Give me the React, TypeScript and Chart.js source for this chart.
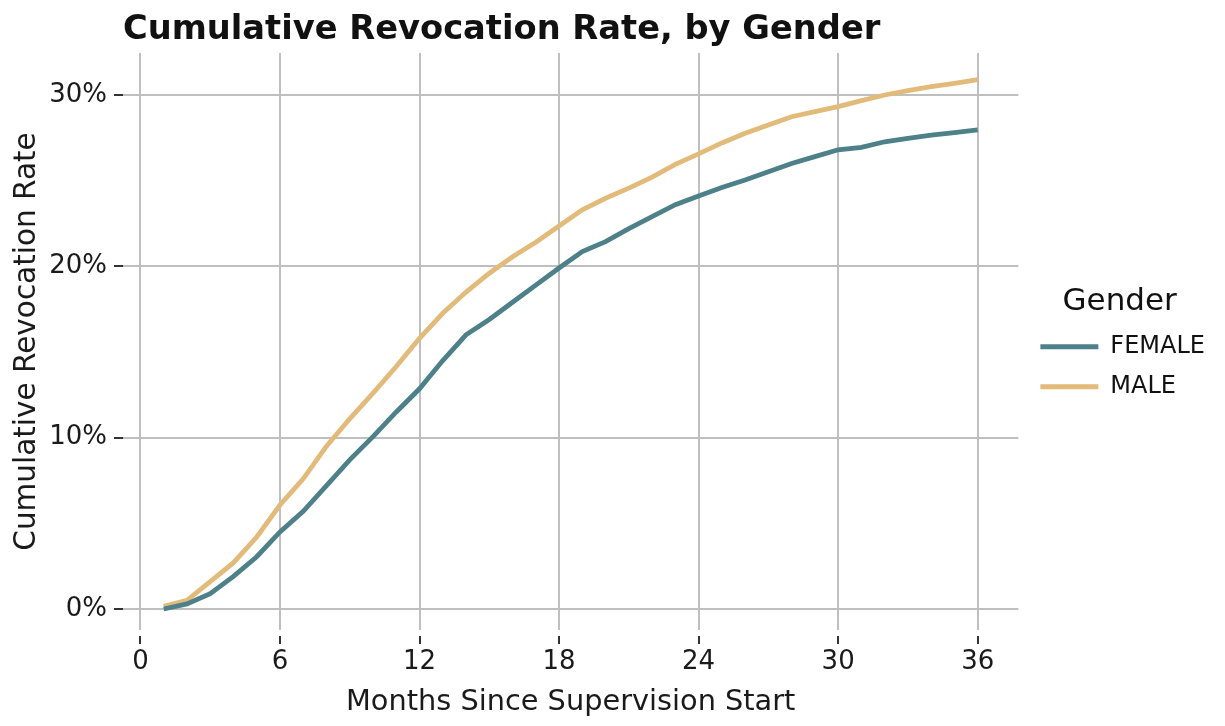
import React, { useEffect, useRef } from 'react';
import { Chart, registerables } from 'chart.js';

Chart.register(...registerables);

const TITLE = 'Cumulative Revocation Rate, by Gender';
const X_TITLE = 'Months Since Supervision Start';
const Y_TITLE = 'Cumulative Revocation Rate';
const LEGEND_TITLE = 'Gender';

const months = [1, 2, 3, 4, 5, 6, 7, 8, 9, 10, 11, 12, 13, 14, 15, 16, 17, 18, 19, 20, 21, 22, 23, 24, 25, 26, 27, 28, 29, 30, 31, 32, 33, 34, 35, 36];

const femaleRate = [0.0, 0.3, 0.9, 1.9, 3.05, 4.5, 5.7, 7.2, 8.7, 10.06, 11.5, 12.85, 14.5, 16.0, 16.9, 17.9, 18.9, 19.9, 20.86, 21.44, 22.2, 22.9, 23.6, 24.1, 24.6, 25.04, 25.52, 26.0, 26.4, 26.8, 26.94, 27.27, 27.47, 27.66, 27.8, 27.96];

const maleRate = [0.15, 0.5, 1.6, 2.7, 4.2, 6.07, 7.6, 9.5, 11.1, 12.6, 14.15, 15.8, 17.26, 18.5, 19.6, 20.56, 21.4, 22.35, 23.3, 23.97, 24.56, 25.2, 25.95, 26.56, 27.2, 27.77, 28.25, 28.73, 29.03, 29.32, 29.67, 30.0, 30.25, 30.49, 30.68, 30.9];

const seriesNames = ['FEMALE', 'MALE'];
const seriesColors = ['#4d8088', '#e2bb7a'];

const xTicks = [0, 6, 12, 18, 24, 30, 36];
const yTicks = [0, 10, 20, 30];

const FONT = "'DejaVu Sans', sans-serif";

const leftTitlePlugin = {
  id: 'leftTitle',
  afterDraw(chart: any) {
    const ctx = chart.ctx;
    ctx.save();
    ctx.font = `bold 33.7px ${FONT}`;
    ctx.fillStyle = '#111111';
    ctx.textAlign = 'left';
    ctx.textBaseline = 'alphabetic';
    ctx.fillText(TITLE, chart.chartArea.left, 39);
    ctx.restore();
  },
};

const legendShiftPlugin = {
  id: 'legendShift',
  afterLayout(chart: any) {
    const lg = chart.legend;
    if (!lg) return;
    const dx = 6;
    lg.left += dx;
    lg.right += dx;
  },
};

export default function App() {
  const canvasRef = useRef<HTMLCanvasElement | null>(null);

  useEffect(() => {
    document.body.style.margin = '0';
    const canvas = canvasRef.current;
    if (!canvas) return;
    const series = [femaleRate, maleRate];
    const chart = new Chart(canvas, {
      type: 'line',
      data: {
        datasets: seriesNames.map((name, i) => ({
          label: name,
          data: months.map((m, j) => ({ x: m, y: series[i][j] })),
          borderColor: seriesColors[i],
          backgroundColor: seriesColors[i],
          borderWidth: 4.8,
          pointRadius: 0,
          tension: 0,
          fill: false,
        })),
      },
      options: {
        responsive: false,
        animation: false,
        devicePixelRatio: 1,
        layout: { padding: { top: 53, right: 16, left: 0, bottom: 0 } },
        plugins: {
          tooltip: { enabled: false },
          title: { display: false },
          legend: {
            display: true,
            position: 'right',
            align: 'center',
            fullSize: false,
            title: {
              display: true,
              text: LEGEND_TITLE,
              color: '#111111',
              font: { family: FONT, size: 31, lineHeight: 1 },
              padding: { top: 18, bottom: 1.5 },
            },
            labels: {
              color: '#111111',
              font: { family: FONT, size: 24 },
              usePointStyle: true,
              pointStyle: 'line',
              pointStyleWidth: 58,
              padding: 16,
            },
          },
        },
        scales: {
          x: {
            type: 'linear',
            min: -0.75,
            max: 37.75,
            afterBuildTicks: (s: any) => {
              s.ticks = xTicks.map((v) => ({ value: v }));
            },
            afterFit: (s: any) => {
              s.height = 96;
            },
            border: { display: false },
            grid: {
              color: '#bfbfbf',
              lineWidth: 2,
              drawTicks: true,
              tickLength: 14,
              tickColor: '#333333',
              tickWidth: 2,
              tickBorderDash: [0, 6, 8, 100],
            },
            ticks: {
              color: '#1a1a1a',
              font: { family: FONT, size: 26 },
              padding: 3,
              maxRotation: 0,
              autoSkip: false,
            },
            title: {
              display: true,
              text: X_TITLE,
              color: '#1a1a1a',
              font: { family: FONT, size: 28.8 },
              padding: { top: 0, bottom: 6 },
            },
          },
          y: {
            type: 'linear',
            min: -1.226,
            max: 32.45,
            afterBuildTicks: (s: any) => {
              s.ticks = yTicks.map((v) => ({ value: v }));
            },
            afterFit: (s: any) => {
              s.width = 123;
            },
            border: { display: false },
            grid: {
              color: '#bfbfbf',
              lineWidth: 2,
              drawTicks: true,
              tickLength: 9,
              tickColor: '#333333',
              tickWidth: 2,
            },
            ticks: {
              color: '#1a1a1a',
              font: { family: FONT, size: 26 },
              padding: 7,
              callback: (v: any) => `${v}%`,
            },
            title: {
              display: true,
              text: Y_TITLE,
              color: '#1a1a1a',
              font: { family: FONT, size: 29.5 },
              padding: { top: 10, bottom: 0 },
            },
          },
        },
      },
      plugins: [leftTitlePlugin, legendShiftPlugin],
    });
    return () => chart.destroy();
  }, []);

  return (
    <div style={{ width: 1225, height: 726 }}>
      <canvas ref={canvasRef} width={1225} height={726} style={{ display: 'block' }} />
    </div>
  );
}
